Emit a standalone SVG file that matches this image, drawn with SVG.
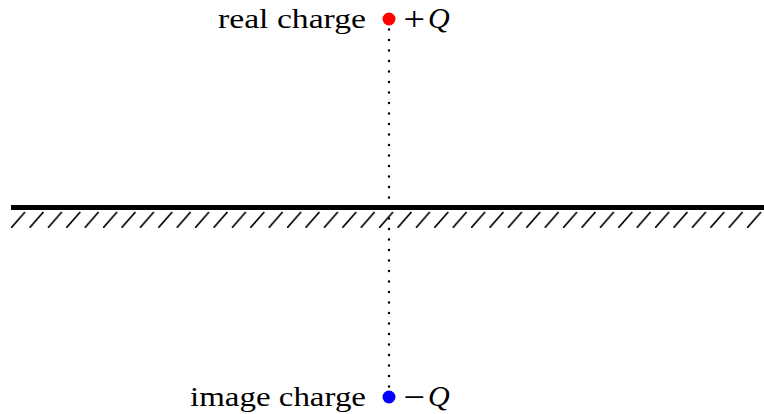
<svg xmlns="http://www.w3.org/2000/svg" width="764" height="414" viewBox="0 0 764 414">
<defs>
<style>
.lbl{font-family:"Liberation Serif","DejaVu Serif",serif;font-size:27px;fill:#000}
.sym{font-family:"Liberation Serif","DejaVu Serif",serif;font-size:33px;fill:#000}
.q{font-family:"Liberation Serif","DejaVu Serif",serif;font-size:30px;font-style:italic;fill:#000}
.hatch{stroke:#000;stroke-width:1.7}
</style>
<pattern id="hp" x="11" y="210" width="18.4" height="18" patternUnits="userSpaceOnUse">
<line x1="0" y1="18" x2="14" y2="2" class="hatch"/>
</pattern>
</defs>
<rect width="764" height="414" fill="#fff"/>
<g id="ground">
<rect x="11" y="210" width="753" height="18" fill="url(#hp)"/>
<line x1="11" y1="207.5" x2="764" y2="207.5" stroke="#000" stroke-width="5"/>
</g>
<g id="connectors">
<line x1="389" y1="19" x2="389" y2="397" stroke="#000" stroke-width="2.4" stroke-linecap="round" stroke-dasharray="0 10.5"/>
</g>
<g id="real-charge">
<circle cx="389" cy="19" r="6.5" fill="#ff0000"/>
<text class="lbl" x="218" y="28" textLength="148" lengthAdjust="spacingAndGlyphs">real charge</text>
<text class="sym" x="403.5" y="30" textLength="21.5" lengthAdjust="spacingAndGlyphs">+</text>
<text class="q" x="428" y="28">Q</text>
</g>
<g id="image-charge">
<circle cx="389" cy="397" r="6.5" fill="#0000ff"/>
<text class="lbl" x="190" y="406" textLength="176" lengthAdjust="spacingAndGlyphs">image charge</text>
<text class="sym" x="403.5" y="408" textLength="21.5" lengthAdjust="spacingAndGlyphs">−</text>
<text class="q" x="428" y="406">Q</text>
</g>
</svg>
